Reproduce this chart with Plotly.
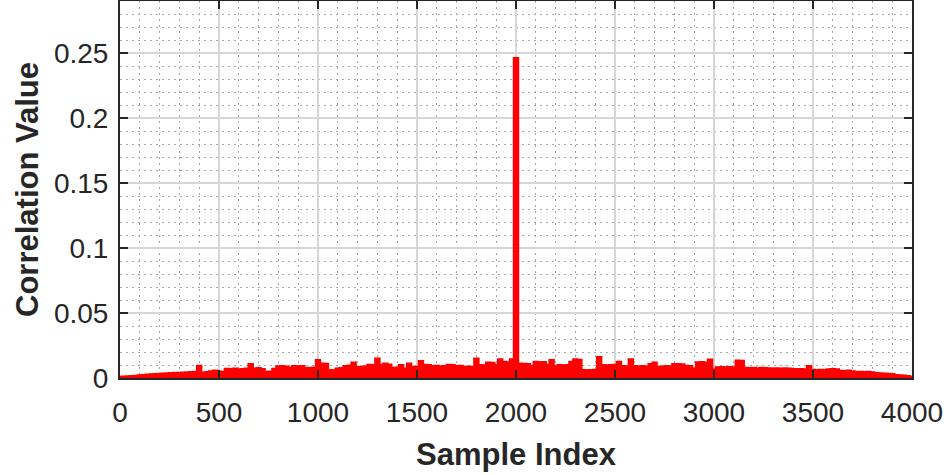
import plotly.graph_objects as go

# Upper envelope of the correlation magnitude, sampled every 20 samples (0..4000)
sample_step = 20
correlation = [
    0.0008, 0.0010, 0.0012, 0.0014, 0.0016, 0.0019, 0.0022, 0.0025, 0.0027, 0.0029,
    0.0031, 0.0033, 0.0035, 0.0036, 0.0038, 0.0039, 0.0040, 0.0042, 0.0044, 0.0046,
    0.0092, 0.0041, 0.0045, 0.0050, 0.0056, 0.0048, 0.0046, 0.0070, 0.0068, 0.0072,
    0.0066, 0.0067, 0.0072, 0.0105, 0.0072, 0.0075, 0.0068, 0.0046, 0.0048, 0.0070,
    0.0088, 0.0090, 0.0086, 0.0077, 0.0090, 0.0088, 0.0090, 0.0077, 0.0075, 0.0078,
    0.0136, 0.0110, 0.0108, 0.0060, 0.0058, 0.0072, 0.0075, 0.0090, 0.0095, 0.0118,
    0.0085, 0.0082, 0.0088, 0.0100, 0.0098, 0.0148, 0.0100, 0.0110, 0.0102, 0.0077,
    0.0078, 0.0098, 0.0072, 0.0110, 0.0085, 0.0084, 0.0128, 0.0100, 0.0098, 0.0090,
    0.0092, 0.0088, 0.0090, 0.0100, 0.0098, 0.0090, 0.0092, 0.0085, 0.0086, 0.0084,
    0.0148, 0.0098, 0.0096, 0.0118, 0.0115, 0.0100, 0.0143, 0.0123, 0.0120, 0.0143,
    0.2460,
    0.0110, 0.0108, 0.0105, 0.0090, 0.0123, 0.0120, 0.0122, 0.0100, 0.0136, 0.0090,
    0.0098, 0.0096, 0.0098, 0.0123, 0.0143, 0.0138, 0.0060, 0.0058, 0.0060, 0.0062,
    0.0160, 0.0098, 0.0096, 0.0098, 0.0100, 0.0123, 0.0090, 0.0088, 0.0143, 0.0090,
    0.0088, 0.0090, 0.0087, 0.0105, 0.0118, 0.0085, 0.0086, 0.0090, 0.0088, 0.0105,
    0.0106, 0.0104, 0.0092, 0.0090, 0.0072, 0.0120, 0.0122, 0.0118, 0.0140, 0.0066,
    0.0080, 0.0082, 0.0080, 0.0082, 0.0080, 0.0132, 0.0130, 0.0076, 0.0075, 0.0076,
    0.0074, 0.0076, 0.0075, 0.0074, 0.0072, 0.0074, 0.0072, 0.0073, 0.0071, 0.0068,
    0.0067, 0.0068, 0.0066, 0.0090, 0.0061, 0.0060, 0.0062, 0.0060, 0.0066, 0.0067,
    0.0065, 0.0054, 0.0052, 0.0056, 0.0050, 0.0046, 0.0046, 0.0044, 0.0046, 0.0043,
    0.0036, 0.0034, 0.0033, 0.0030, 0.0028, 0.0022, 0.0020, 0.0018, 0.0014, 0.0008,
]
sample_index = [i * sample_step for i in range(len(correlation))]

x_ticks = [0, 500, 1000, 1500, 2000, 2500, 3000, 3500, 4000]
y_ticks = [0, 0.05, 0.1, 0.15, 0.2, 0.25]
y_tick_labels = ["0", "0.05", "0.1", "0.15", "0.2", "0.25"]

FONT = "Liberation Sans, Arial, Helvetica, sans-serif"
TXT = "#262626"

fig = go.Figure()
fig.add_trace(go.Scatter(
    x=sample_index, y=correlation, mode="lines",
    line=dict(color="#ff0000", width=2.5, shape="hvh"),
    fill="tozeroy", fillcolor="#ff0000",
    showlegend=False, hoverinfo="skip",
))

axis_common = dict(
    showline=True, linecolor="#262626", linewidth=2, mirror="allticks",
    ticks="inside", ticklen=8, tickwidth=2, tickcolor="#262626",
    showgrid=True, gridcolor="#d6d6d6", gridwidth=2, zeroline=False,
    tickfont=dict(family=FONT, size=28, color=TXT), automargin=False,
)

fig.update_xaxes(
    range=[0, 4000], tickvals=x_ticks, ticklabelstandoff=8,
    minor=dict(dtick=100, showgrid=True, gridcolor="#a8a8a8", gridwidth=1, griddash="2px,4px"),
    title=dict(text="<b>Sample Index</b>", font=dict(family=FONT, size=31, color=TXT), standoff=17),
    **axis_common,
)
fig.update_yaxes(
    range=[0, 0.29], tickvals=y_ticks, ticktext=y_tick_labels, ticklabelstandoff=4,
    minor=dict(dtick=0.01, showgrid=True, gridcolor="#a8a8a8", gridwidth=1, griddash="2px,4px"),
    title=dict(text="<b>Correlation Value</b>", font=dict(family=FONT, size=31, color=TXT), standoff=6),
    **axis_common,
)

fig.update_layout(
    width=947, height=475,
    margin=dict(l=120, r=35, t=1, b=97),
    paper_bgcolor="white", plot_bgcolor="white",
)

fig.write_html("out.html", config={"displayModeBar": False},
               post_script="document.body.style.margin='0';")
